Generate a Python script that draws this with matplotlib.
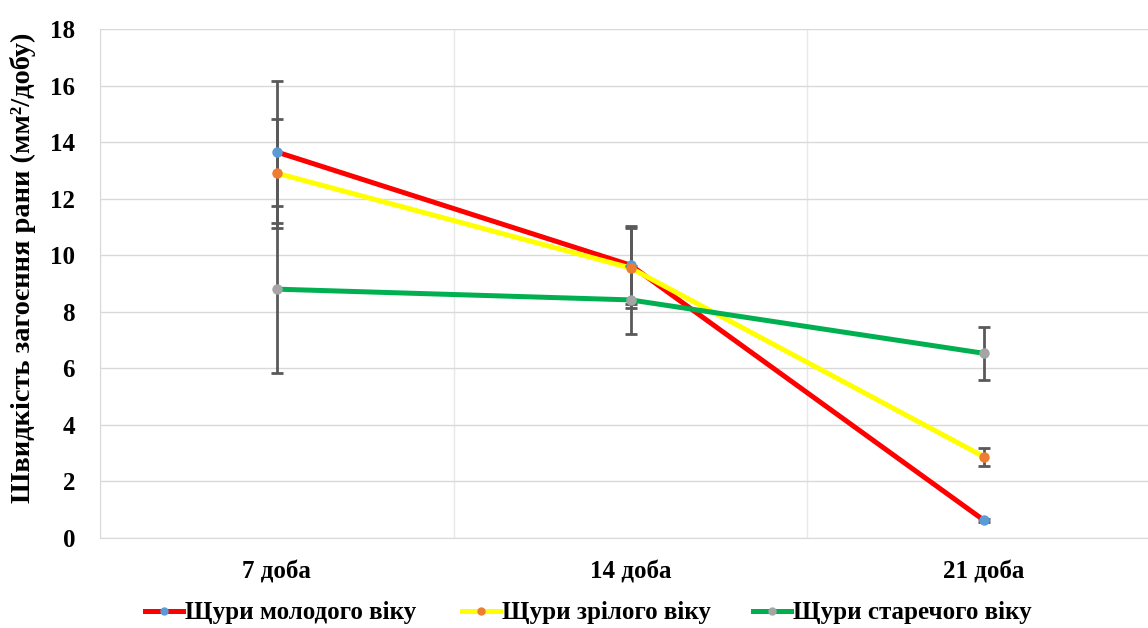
import matplotlib.pyplot as plt
from matplotlib.lines import Line2D

days = ["7 доба", "14 доба", "21 доба"]
series_names = ["Щури молодого віку", "Щури зрілого віку", "Щури старечого віку"]
young = [13.65, 9.65, 0.62]
mature = [12.9, 9.55, 2.87]
senile = [8.8, 8.42, 6.53]
young_err = [2.5, 1.38, 0.05]
mature_err = [1.92, 1.42, 0.32]
senile_err = [2.95, 1.2, 0.93]

values = [young, mature, senile]
errors = [young_err, mature_err, senile_err]
line_colors = ["#FF0000", "#FFFF00", "#00B050"]
marker_colors = ["#5B9BD5", "#ED7D31", "#A5A5A5"]

plt.rcParams["font.family"] = ["Liberation Serif", "DejaVu Serif"]
plt.rcParams["font.weight"] = "bold"

W, H = 1148, 628
fig = plt.figure(figsize=(W / 100, H / 100), dpi=100)
ax = fig.add_axes([100 / W, 1 - 538 / H, (1161 - 100) / W, (538 - 29) / H])

x = list(range(len(days)))
for i in range(3):
    ax.plot(x, values[i], color=line_colors[i], lw=3.6, zorder=3 + i * 0.1,
            solid_capstyle="round")
for i in range(3):
    ax.errorbar(x, values[i], yerr=errors[i], fmt="none", ecolor="#595959",
                elinewidth=2.0, capsize=4, capthick=2.0, zorder=4)
for i in range(3):
    ax.plot(x, values[i], ls="none", marker="o", ms=6.5,
            color=marker_colors[i], zorder=5)

ax.set_xlim(-0.5, 2.5)
ax.set_ylim(0, 18)
ax.set_yticks(range(0, 19, 2))
ax.set_xticks(x)
ax.set_xticklabels(days)
ax.set_xticks([-0.5, 0, 0.5, 1, 1.5, 2, 2.5], minor=True)
ax.grid(True, which="major", axis="y", color="#D9D9D9", lw=1.0)
ax.grid(True, which="minor", axis="x", color="#E8E8E8", lw=1.0)
ax.set_axisbelow(True)
for s in ["top", "right"]:
    ax.spines[s].set_visible(False)
ax.spines["left"].set_color("#D9D9D9")
ax.spines["bottom"].set_color("#D9D9D9")
ax.tick_params(axis="both", which="both", length=0, labelsize=18)
ax.tick_params(axis="y", pad=18)
ax.tick_params(axis="x", pad=16)
for lbl in ax.get_xticklabels() + ax.get_yticklabels():
    lbl.set_fontweight("bold")

fig.text(23 / W, 1 - 268 / H, "Швидкість загоєння рани (мм²/добу)", rotation=90,
         ha="center", va="center", fontsize=20.5, fontweight="bold")

# one legend entry per series, placed along the bottom row
entry_x = [145, 462, 753]
for i in range(3):
    h = Line2D([0], [0], color=line_colors[i], lw=3.6, marker="o", ms=5,
               markerfacecolor=marker_colors[i], markeredgecolor=marker_colors[i])
    fig.legend([h], [series_names[i]], loc="center left",
               bbox_to_anchor=(entry_x[i] / W, 1 - 613 / H),
               frameon=False, handlelength=1.5, handletextpad=0.1,
               borderpad=0, borderaxespad=0,
               prop={"weight": "bold", "size": 18})

fig.savefig("out.png", dpi=100)
